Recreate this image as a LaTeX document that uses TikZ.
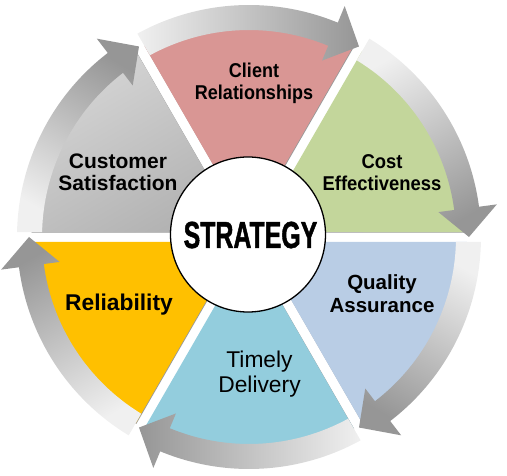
\documentclass[tikz,border=0pt]{standalone}
\usepackage{fontspec}
\setmainfont{Liberation Sans}
\newfontfamily\stratfont{Liberation Sans}[FakeStretch=0.66, BoldFeatures={FakeBold=1.2}]
\usepackage{graphicx}
\definecolor{wpink}{HTML}{D99694}
\definecolor{wgreen}{HTML}{C3D69B}
\definecolor{wblue}{HTML}{B9CDE5}
\definecolor{waqua}{HTML}{93CDDD}
\definecolor{wyellow}{HTML}{FFC000}
\definecolor{wgraylight}{HTML}{D6D6D6}
\definecolor{wgraydark}{HTML}{B2B2B2}
\definecolor{arrlight}{HTML}{F0F0F0}
\definecolor{arrdark}{HTML}{969696}
\tikzset{
  lab/.style={anchor=base, inner sep=0pt, text=black},
  wshadow/.style={fill=black!40, shift={(0.6,-0.7)}},
}
\begin{document}
\begin{tikzpicture}[x=1pt,y=1pt]
\useasboundingbox (-249,-239) rectangle (258,237);
% wedges
\foreach \a/\c in {60/wpink, 0/wgreen, -60/wblue, -120/waqua, 180/wyellow, 120/wgraylight} {
  \fill[wshadow] ({\a+30}:10) -- ({\a+asin(5/218)}:218)
     arc[start angle={\a+asin(5/218)}, end angle={\a+60-asin(5/218)}, radius=218] -- cycle;
}
\foreach \a/\c in {60/wpink, 0/wgreen, -60/wblue, -120/waqua, 180/wyellow} {
  \fill[\c] ({\a+30}:10) -- ({\a+asin(5/218)}:218)
     arc[start angle={\a+asin(5/218)}, end angle={\a+60-asin(5/218)}, radius=218] -- cycle;
}
\shade[top color=wgraylight, bottom color=wgraydark, shading angle=30]
  ({150}:10) -- ({120+asin(5/218)}:218)
  arc[start angle={120+asin(5/218)}, end angle={180-asin(5/218)}, radius=218] -- cycle;
% arrows
\foreach \a in {120,60,0,-60,-120,180} {
  \pgfmathsetmacro\ArrSa{\a-30}
  \pgfmathsetmacro\ArrHb{\a-60+7.5}
  \pgfmathsetmacro\ArrTip{\a-60}
  \pgfmathsetmacro\ArrTi{\a-asin(5/207)}
  \pgfmathsetmacro\ArrTo{\a-asin(5/232)}
  \shade[top color=arrlight, bottom color=arrdark, shading angle=\ArrSa]
    (\ArrTi:207) -- (\ArrTo:232)
    arc[start angle=\ArrTo, end angle=\ArrHb, radius=232]
    -- (\ArrHb:250) -- (\ArrTip:220) -- (\ArrHb:191) -- (\ArrHb:207)
    arc[start angle=\ArrHb, end angle=\ArrTi, radius=207] -- cycle;
}
% centre
\node[circle, draw=black, line width=1.3pt, fill=white, minimum size=155pt, inner sep=0pt] (centre) at (-1,2.5) {};
\node[lab, font=\stratfont\bfseries\fontsize{37.7}{40}\selectfont] (strategy) at (1.5,-11) {STRATEGY};
% labels
\node[lab, font=\bfseries\fontsize{20}{24}\selectfont] (client-a) at (5,159) {\scalebox{0.9}[1]{Client}};
\node[lab, font=\bfseries\fontsize{20}{24}\selectfont] (client-b) at (5,137) {\scalebox{0.9}[1]{Relationships}};
\node[lab, font=\bfseries\fontsize{21}{24}\selectfont] (cust-a) at (-131,68) {Customer};
\node[lab, font=\bfseries\fontsize{21}{24}\selectfont] (cust-b) at (-131,46) {Satisfaction};
\node[lab, font=\bfseries\fontsize{20}{24}\selectfont] (cost-a) at (133,68) {\scalebox{0.92}[1]{Cost}};
\node[lab, font=\bfseries\fontsize{20}{24}\selectfont] (cost-b) at (133,46) {\scalebox{0.92}[1]{Effectiveness}};
\node[lab, font=\bfseries\fontsize{20.5}{24}\selectfont] (qual-a) at (133,-53) {Quality};
\node[lab, font=\bfseries\fontsize{20.5}{24}\selectfont] (qual-b) at (133,-76) {Assurance};
\node[lab, font=\bfseries\fontsize{22.8}{26}\selectfont] (rel) at (-130,-74) {Reliability};
\node[lab, font=\fontsize{22.8}{26}\selectfont] (time-a) at (10.5,-131) {Timely};
\node[lab, font=\fontsize{22.8}{26}\selectfont] (time-b) at (10.5,-156) {Delivery};
\end{tikzpicture}
\end{document}
